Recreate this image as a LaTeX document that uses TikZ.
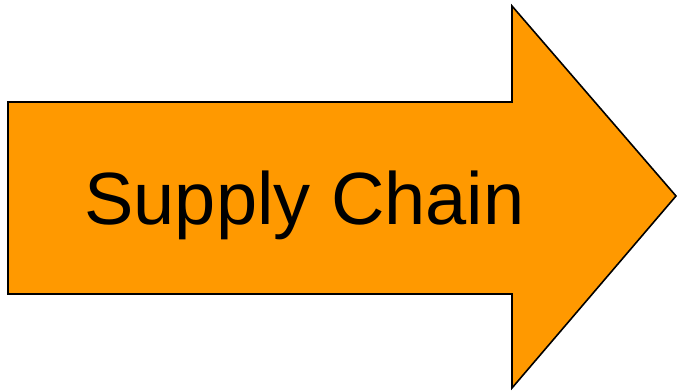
\documentclass[tikz,border=0pt]{standalone}
\usepackage{fontspec}
\setmainfont{Liberation Sans}
\definecolor{arroworange}{HTML}{FF9900}
\tikzset{blockarrow/.style={fill=arroworange, draw=black, line width=1.6pt, line join=miter},
  label/.style={inner sep=0pt, font=\fontsize{74}{80}\selectfont}}
\begin{document}
\begin{tikzpicture}[x=1pt,y=-1pt]
\useasboundingbox (0,0) rectangle (677,391);
\draw[blockarrow] (8,102) coordinate (a1) -- (512,102) -- (512,6) -- (676,196) -- (512,388) -- (512,294) -- (8,294) -- cycle;
\node[label, anchor=base] (t) at (304.5,224) {Supply Chain};
\end{tikzpicture}
\end{document}
